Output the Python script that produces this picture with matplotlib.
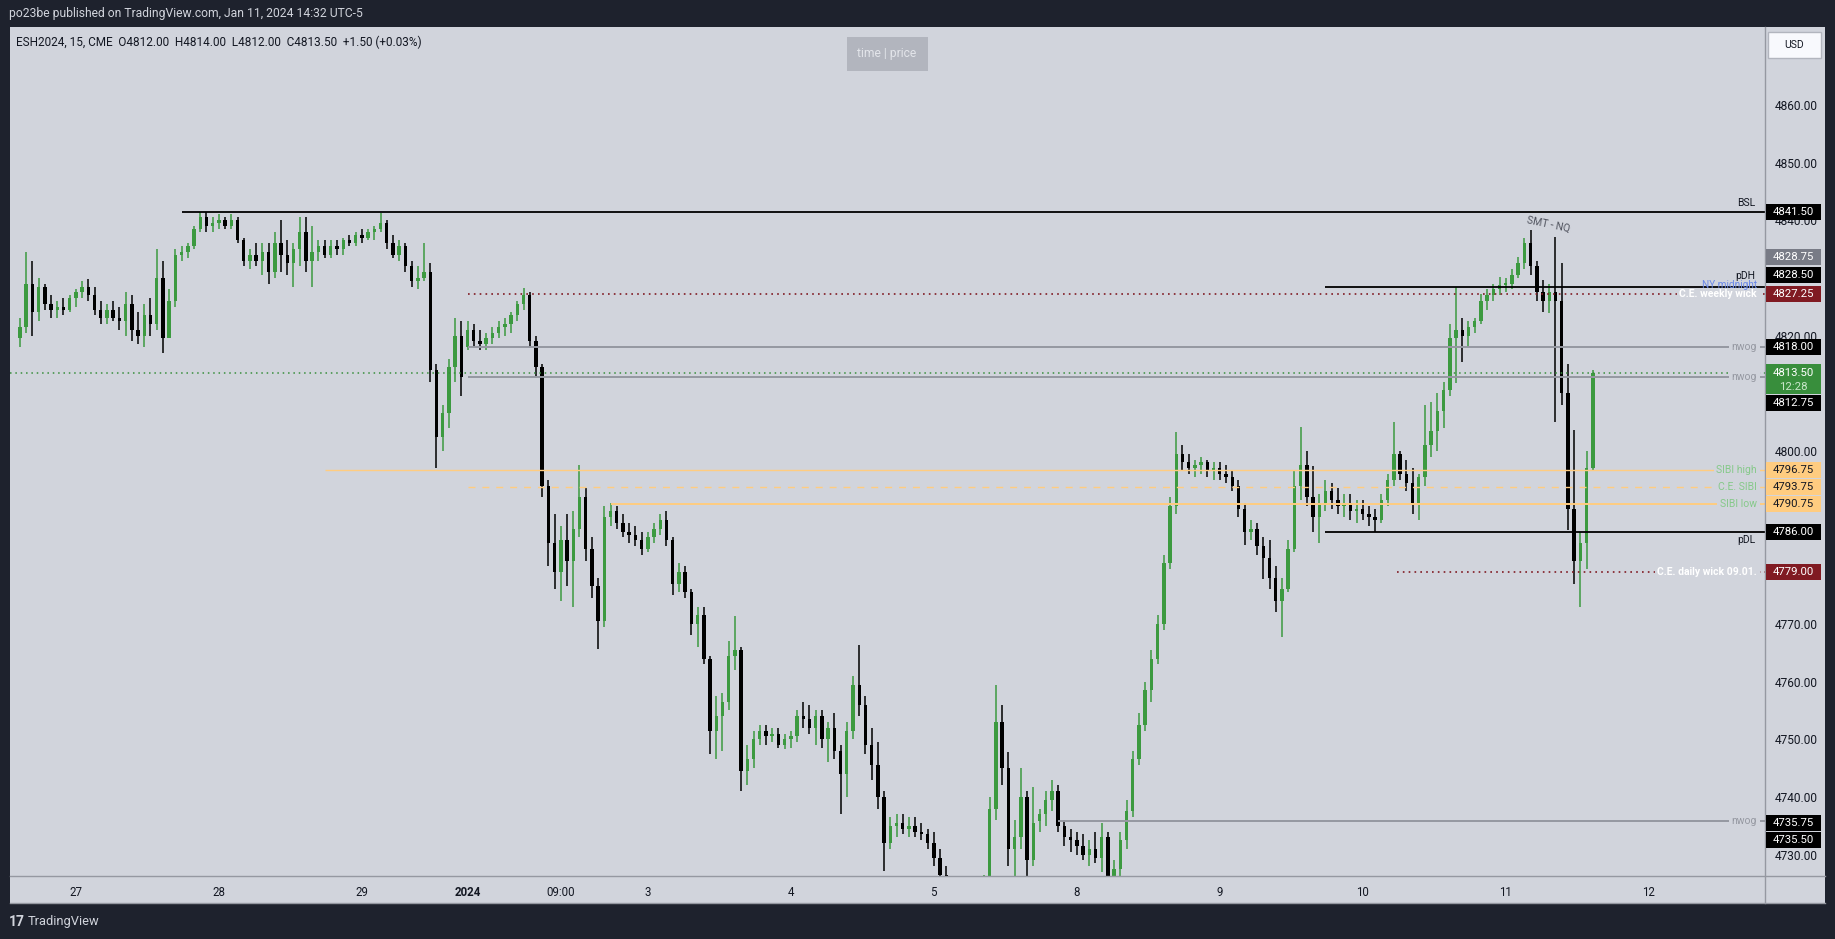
import numpy as np
import matplotlib.pyplot as plt
from matplotlib.patches import Rectangle
from matplotlib.transforms import IdentityTransform

plt.rcParams['font.family'] = ['Roboto', 'DejaVu Sans']

W, H = 1835, 939
BG = '#d1d4dc'
FRAME = '#1e222d'
INK = '#131722'
UP = '#3c9a40'
DOWN = '#000000'

# ---- hourly bars (ESH2024) ----
first_open = 4819.5
session_opens = {72: 4818.0, 164: 4735.75}   # bar index -> open after a closed session

highs = [
    # Dec 26 (14:00 -> 23:00)
    4823, 4834.5, 4833, 4830, 4829, 4827, 4826, 4826.5, 4827,
    # Dec 27
    4828, 4829.5, 4829.8, 4828.5, 4826, 4825.5, 4826, 4825, 4827.5, 4827, 4824, 4825.5,
    4826.5, 4835, 4833, 4828, 4835, 4835.5, 4836, 4839, 4841.5, 4841.5, 4840.5,
    # Dec 28
    4841, 4840.5, 4841, 4840.5, 4837, 4835, 4836, 4836, 4836, 4838, 4840, 4836.5,
    4836, 4840.5, 4840.6, 4839, 4836.5, 4836.5, 4836.5, 4836.5, 4837, 4837.5, 4838,
    # Dec 29
    4838.5, 4838.5, 4839, 4841.2, 4840, 4837.5, 4836.5, 4836, 4833, 4832, 4836, 4832.5,
    4815, 4808, 4816, 4823, 4822.5,
    # Jan 1 evening
    4822.5, 4822, 4821, 4820.5, 4821.5, 4822.5,
    # Jan 2
    4823, 4824, 4826, 4828.3, 4827.5, 4820, 4815, 4795, 4789, 4787, 4789, 4789.5,
    4797.5, 4793.5, 4785, 4778, 4790.5, 4791, 4790.5, 4789, 4787.5, 4787, 4786,
    # Jan 3
    4786, 4787.5, 4789, 4789.5, 4785, 4780.5, 4780, 4776, 4773, 4773, 4764.5, 4757.5,
    4758, 4767, 4771.4, 4766, 4749, 4751.5, 4752.5, 4752.5, 4752, 4752, 4751,
    # Jan 4
    4751.5, 4755, 4756.5, 4756, 4755, 4755, 4753, 4754.5, 4749, 4753, 4761, 4766.4,
    4757.5, 4752, 4749.5, 4741, 4736.5, 4737, 4737, 4736.5, 4736.5, 4735.5, 4734.5,
    # Jan 5
    4734, 4731, 4728, 4724, 4722, 4719, 4720, 4722, 4726.5, 4740, 4759.5, 4756,
    4747.8, 4736, 4745, 4741, 4741.8,
    # Jan 7 evening
    4738, 4741, 4743, 4742, 4736, 4734.5,
    # Jan 8
    4734, 4733.5, 4732.5, 4734, 4735.5, 4734, 4729, 4734, 4739.5, 4748, 4754.5, 4760,
    4765.5, 4771.5, 4782, 4792, 4803.2, 4801, 4799.5, 4798.5, 4799, 4798.5, 4798,
    # Jan 9
    4798, 4797.5, 4796.5, 4795, 4791, 4788, 4787.5, 4785, 4784.6, 4780, 4778, 4784.5,
    4796.7, 4804.2, 4800, 4797.3, 4792.5, 4795, 4794.5, 4793.5, 4792.6, 4792.5, 4791.5,
    # Jan 10
    4791.5, 4790.5, 4790, 4792.5, 4796, 4805, 4800, 4798.5, 4797, 4796, 4808, 4808.5,
    4810, 4812, 4822, 4828.5, 4823, 4822.6, 4823, 4827.2, 4828, 4829, 4830.2,
    # Jan 11 (-> 14:00)
    4830, 4831.5, 4833.7, 4837, 4838.3, 4833, 4829.6, 4829, 4837.1, 4832.5, 4815, 4803.7,
    4786, 4800, 4814,
]

lows = [
    4818, 4820.5, 4820, 4822.5, 4824.5, 4823, 4823, 4823.5, 4824,
    4825, 4826.5, 4826, 4823.5, 4822, 4822, 4822.5, 4821, 4820, 4819, 4818.5, 4818,
    4820, 4821, 4817, 4819.5, 4825, 4833, 4833.5, 4835, 4838, 4838, 4838,
    4838.5, 4838.5, 4838.5, 4836, 4832, 4831.5, 4832, 4830.5, 4829, 4830, 4831, 4830.5,
    4828.5, 4832, 4831, 4828.5, 4833, 4833.5, 4833.5, 4834, 4834, 4835.5, 4835.5,
    4836, 4836.5, 4836.5, 4838, 4835, 4833.5, 4833, 4831, 4828.5, 4828, 4829.5, 4812,
    4797, 4800, 4804, 4812, 4809.5,
    4817.5, 4818, 4817.5, 4817.5, 4818.5, 4819.5,
    4820, 4820.5, 4822.5, 4824.5, 4818, 4813, 4792, 4780, 4776, 4774, 4776.5, 4773,
    4785, 4781, 4774.5, 4765.7, 4769.5, 4787, 4786.5, 4785, 4784, 4783.5, 4782,
    4782.5, 4784, 4785.5, 4783.5, 4775, 4775.5, 4774.5, 4768, 4766, 4763, 4747.5, 4746.5,
    4748, 4755, 4762, 4741, 4742, 4745, 4749, 4749, 4749.5, 4748.5, 4748.4,
    4748.5, 4749.5, 4752, 4751, 4749, 4748.5, 4746, 4746.5, 4737, 4740, 4750, 4754,
    4747.5, 4743, 4738, 4727.2, 4731, 4733, 4733.5, 4733, 4733, 4732.5, 4731,
    4728, 4725, 4719, 4716, 4713, 4710, 4711.5, 4714, 4712, 4722, 4736, 4742,
    4728, 4722, 4731, 4724, 4728,
    4734, 4735, 4737.5, 4734, 4731.5, 4730.5,
    4730, 4729, 4728, 4728.5, 4727, 4724.5, 4723.5, 4726, 4731, 4736.5, 4745.5, 4751.5,
    4756.5, 4763, 4769, 4779.5, 4789, 4796.5, 4796, 4795.5, 4796, 4795.5, 4795,
    4795, 4794.5, 4793, 4788.5, 4783.7, 4784.5, 4782, 4777.8, 4776, 4772, 4767.7, 4775.5,
    4782.5, 4791.5, 4790.5, 4786, 4784, 4789.5, 4790, 4789, 4788.5, 4788, 4787.5,
    4788, 4787, 4786, 4787.5, 4790.5, 4794, 4795, 4793, 4789, 4788, 4794, 4799,
    4800, 4804, 4809.5, 4811.7, 4815.5, 4818, 4820.5, 4822, 4824.5, 4826, 4827,
    4827.5, 4828, 4830, 4831.5, 4830.5, 4826, 4824, 4823.9, 4805, 4808, 4786.3, 4777,
    4773, 4779.5, 4796.5,
]

closes = [
    4821.5, 4829, 4824, 4828.5, 4825.5, 4824.5, 4825, 4824.5, 4826.5,
    4827.5, 4828.5, 4827, 4824.5, 4823, 4824.5, 4823, 4822.5, 4825.5, 4821, 4820, 4823.5,
    4822, 4830, 4819.5, 4826, 4834, 4834.5, 4835.5, 4838.5, 4840.5, 4839, 4839.5,
    4840, 4839, 4840, 4836.5, 4833, 4834, 4833, 4834.5, 4831, 4836, 4834, 4832.5,
    4835, 4838, 4833, 4834.5, 4835.5, 4834, 4835.5, 4835, 4836.5, 4836, 4837.5,
    4837, 4838, 4838.5, 4839.5, 4836, 4834, 4835.5, 4832, 4829.5, 4830, 4831, 4814,
    4802.5, 4806.5, 4814.5, 4820, 4812.75,
    4821, 4819, 4818.5, 4819.5, 4820.5, 4821.5,
    4822, 4823.5, 4825.5, 4827, 4819, 4814.5, 4794, 4784, 4779, 4784.5, 4781, 4786.5,
    4792, 4783, 4776.5, 4770.5, 4788.5, 4789.5, 4787.5, 4786, 4785.5, 4784.5, 4783,
    4785, 4786.5, 4788, 4784.5, 4777, 4779, 4775.5, 4770, 4771.5, 4764, 4751.5, 4754,
    4756.5, 4764.5, 4765.5, 4744.5, 4746.5, 4750, 4751.5, 4750.5, 4751, 4749, 4750,
    4750.5, 4754, 4753.5, 4752, 4754, 4750, 4752, 4748, 4744, 4751.5, 4759.5, 4756,
    4749, 4745.5, 4740, 4732, 4735, 4735.5, 4734.5, 4735, 4734, 4733.5, 4732,
    4729.5, 4726.5, 4721, 4718.5, 4715, 4714, 4717, 4716, 4724, 4738, 4753, 4745,
    4731, 4733, 4740, 4729, 4735.5,
    4737, 4739.5, 4741, 4735, 4733, 4732.5,
    4731.5, 4730, 4731, 4729.5, 4733, 4726, 4727.5, 4732.5, 4737.5, 4746.5, 4752.5, 4758.5,
    4764, 4770, 4780.5, 4790.5, 4799.5, 4798, 4797, 4797.5, 4798, 4796.5, 4797,
    4796, 4795.5, 4794, 4790, 4786, 4786.5, 4783.5, 4781.5, 4778, 4774, 4776, 4783,
    4794, 4797.5, 4792, 4788.5, 4791, 4793, 4791.5, 4790.5, 4791, 4789.5, 4790,
    4789, 4788.5, 4788, 4791.5, 4795, 4799.5, 4796, 4794.5, 4791, 4795.5, 4801, 4803.5,
    4807, 4810.5, 4819.5, 4821, 4820, 4821.5, 4822.5, 4826, 4827, 4828, 4828.75,
    4829, 4830.5, 4832.5, 4836, 4832, 4827.5, 4826, 4827.5, 4826, 4810, 4790, 4781,
    4784, 4797, 4813.5,
]

# time axis: bar index of each label
day_ticks = [9, 32, 55, 72, 87, 101, 124, 147, 170, 193, 216, 239, 262]
day_labels = ['27', '28', '29', '2024', '09:00', '3', '4', '5', '8', '9', '10', '11', '12']

# price scale ticks (those under a price tag are not shown by TradingView)
price_ticks = [4730, 4740, 4750, 4760, 4770, 4780, 4790, 4800, 4810, 4820, 4830, 4840, 4850, 4860]
hidden_ticks = [4780, 4790, 4810, 4830]

# drawn levels
level_names = ['BSL', 'pDH', 'C.E. weekly wick', 'nwog', 'nwog', 'SIBI high', 'C.E. SIBI',
               'SIBI low', 'pDL', 'C.E. daily wick 09.01.', 'nwog']
level_prices = [4841.5, 4828.5, 4827.25, 4818.0, 4812.75, 4796.75, 4793.75,
                4790.75, 4786.0, 4779.0, 4735.75]
level_starts = [26, 210, 72, 72, 72, 49, 72, 95, 210, 221.5, 167]

ny_midnight = 4828.75
extra_black = 4735.50
last_price = 4813.50
countdown = '12:28'
header = 'po23be published on TradingView.com, Jan 11, 2024 14:32 UTC-5'
legend = 'ESH2024, 15, CME  O4812.00  H4814.00  L4812.00  C4813.50  +1.50 (+0.03%)'


def main():
    fig = plt.figure(figsize=(W / 100, H / 100), dpi=100)
    fig.patch.set_facecolor(FRAME)
    idt = IdentityTransform()

    # panels behind the chart (price scale + time scale)
    fig.add_artist(Rectangle((10, H - 903), 1815, 876, transform=idt,
                             facecolor=BG, edgecolor='none', zorder=-5))
    ax = fig.add_axes([10 / W, 1 - 876 / H, 1755 / W, 849 / H])
    ax.set_facecolor(BG)
    for s in ax.spines.values():
        s.set_visible(False)

    o = np.array([first_open] + closes[:-1], dtype=float)
    for k, v in session_opens.items():
        o[k] = v
    c = np.array(closes, dtype=float)
    hi = np.maximum(np.array(highs, dtype=float), np.maximum(o, c))
    lo = np.minimum(np.array(lows, dtype=float), np.minimum(o, c))
    x = np.arange(len(c))
    col = np.where(c >= o, UP, DOWN)
    ax.vlines(x, lo, hi, colors=col, linewidth=1.1, zorder=3)
    body = np.maximum(np.abs(c - o), 0.3)
    ax.bar(x, body, bottom=np.minimum(o, c), width=0.55, color=col, zorder=3, linewidth=0)

    xmin, xmax = -1.6, 280.7
    ax.set_xlim(xmin, xmax)
    ax.set_ylim(4726.3, 4873.5)

    # current price line
    ax.axhline(last_price, color='#388e3c', lw=1.1, ls=(0, (1, 2.5)), zorder=4)

    ytr = ax.get_yaxis_transform()
    styles = {
        'BSL': dict(color='black', lw=1.3, ls='-', z=6.5),
        'pDH': dict(color='black', lw=1.3, ls='-', z=6.5),
        'pDL': dict(color='black', lw=1.3, ls='-', z=6.5),
        'nwog': dict(color='#9598a1', lw=1.4, ls='-', z=4),
        'SIBI high': dict(color='#ffcc80', lw=1.0, ls='-', z=4),
        'SIBI low': dict(color='#ffcc80', lw=1.4, ls='-', z=4),
        'C.E. SIBI': dict(color='#ffcc80', lw=1.0, ls=(0, (5, 5)), z=4),
    }
    red_dots = dict(color='#801a22', lw=1.2, ls=(0, (1, 2.5)), z=4)
    for name, p, st in zip(level_names, level_prices, level_starts):
        s = styles.get(name, red_dots)
        ax.hlines(p, st, xmax, colors=s['color'], linewidth=s['lw'], linestyles=s['ls'],
                  zorder=s['z'])
        if name in ('BSL', 'pDH', 'pDL'):
            dy = {'BSL': 8.5, 'pDH': 10.5, 'pDL': -8}[name]
            ax.annotate(name, (0.9955, p), xycoords=ytr, xytext=(-2, dy),
                        textcoords='offset pixels', ha='right', va='center', fontsize=7.5,
                        color=INK, zorder=6)
        else:
            if name.startswith('C.E.') and 'SIBI' not in name:
                tc, fw = 'white', 'bold'
            elif 'SIBI' in name:
                tc, fw = '#86c98a', 'normal'
            else:
                tc, fw = '#9598a1', 'normal'
            ax.text(0.9955, p, name, transform=ytr, ha='right', va='center', fontsize=7.5,
                    color=tc, fontweight=fw, zorder=6,
                    bbox=dict(boxstyle='square,pad=0.25', facecolor=BG, edgecolor='none'))
    ax.annotate('NY midnight', (0.9955, ny_midnight), xycoords=ytr, xytext=(0, 0),
                textcoords='offset pixels', ha='right', va='center',
                fontsize=7.2, color='#6a88e8', zorder=7)
    ax.text(245.8, 4839.3, 'SMT - NQ', rotation=-12, ha='center', va='center', fontsize=7.5,
            color='#50535e', zorder=6)

    # axes ticks
    ax.yaxis.tick_right()
    ax.set_yticks(price_ticks, ['' if v in hidden_ticks else '%.2f' % v for v in price_ticks])
    ax.tick_params(axis='y', length=0, pad=7, labelsize=8.6, labelcolor=INK)
    ax.set_xticks(day_ticks, day_labels)
    ax.tick_params(axis='x', length=0, pad=7.5, labelsize=8.3, labelcolor=INK)
    for t in ax.get_xticklabels():
        if t.get_text() == '2024':
            t.set_fontweight('bold')

    # panel borders
    fig.add_artist(plt.Line2D([1765, 1765], [H - 27, H - 903], transform=idt, color='#9598a1', lw=1))
    fig.add_artist(plt.Line2D([10, 1825], [H - 876, H - 876], transform=idt, color='#9598a1', lw=1))
    fig.add_artist(plt.Line2D([10, 1825], [H - 903, H - 903], transform=idt, color='#9598a1', lw=1))

    # price scale labels
    def ypix(p):
        return ax.transData.transform((0, p))[1]

    def tag(p, face, fg, dy=0.0):
        yc = ypix(p) - dy
        fig.add_artist(Rectangle((1766, yc - 8), 55, 16, transform=idt, facecolor=face,
                                 edgecolor='none', zorder=10))
        fig.text(1793.5, yc, '%.2f' % p, transform=idt, ha='center', va='center',
                 fontsize=8.2, color=fg, zorder=11)

    tag(level_prices[0], 'black', 'white')
    tag(ny_midnight, '#787b86', 'white', dy=-28)
    tag(level_prices[1], 'black', 'white', dy=-11.5)
    tag(level_prices[2], '#801a22', 'white', dy=0.5)
    tag(level_prices[3], 'black', 'white')
    tag(level_prices[4], 'black', 'white', dy=25.5)
    for p in level_prices[5:8]:
        tag(p, '#ffcc80', INK)
    tag(level_prices[8], 'black', 'white')
    tag(level_prices[9], '#801a22', 'white')
    tag(level_prices[10], 'black', 'white', dy=2)
    tag(extra_black, 'black', 'white', dy=17.5)
    yl = ypix(last_price)
    fig.add_artist(Rectangle((1766, yl - 21), 55, 30, transform=idt, facecolor='#388e3c',
                             edgecolor='none', zorder=10))
    fig.text(1793.5, yl, '%.2f' % last_price, transform=idt, ha='center', va='center',
             fontsize=8.2, color='white', zorder=11)
    fig.text(1793.5, yl - 14, countdown, transform=idt, ha='center', va='center',
             fontsize=8.2, color='#c8e6c9', zorder=11)

    # header, legend, widgets
    fig.text(9, H - 14, header, transform=idt, va='center', fontsize=8.7, color='#d1d4dc')
    fig.text(16, H - 42, legend, transform=idt, va='center', fontsize=8.5, color=INK)
    fig.text(887, H - 54, 'time | price', transform=idt, ha='center', va='center', fontsize=8.7,
             color='#e3e5ea', bbox=dict(boxstyle='square,pad=0.9', facecolor='#b2b5be',
                                        edgecolor='none'))
    fig.add_artist(Rectangle((1768, H - 58), 53, 26, transform=idt, facecolor='#f8f9fd',
                             edgecolor='#b2b5be', lw=1, zorder=10))
    fig.text(1794.5, H - 45, 'USD', transform=idt, ha='center', va='center', fontsize=7.5,
             color=INK, zorder=11)
    fig.text(9, H - 922, '17', transform=idt, va='center', fontsize=10, fontweight='bold',
             color='#d1d4dc')
    fig.text(28, H - 922, 'TradingView', transform=idt, va='center', fontsize=9.3,
             color='#d1d4dc')

    fig.savefig('out.png', dpi=100, facecolor=FRAME)


if __name__ == '__main__':
    main()
